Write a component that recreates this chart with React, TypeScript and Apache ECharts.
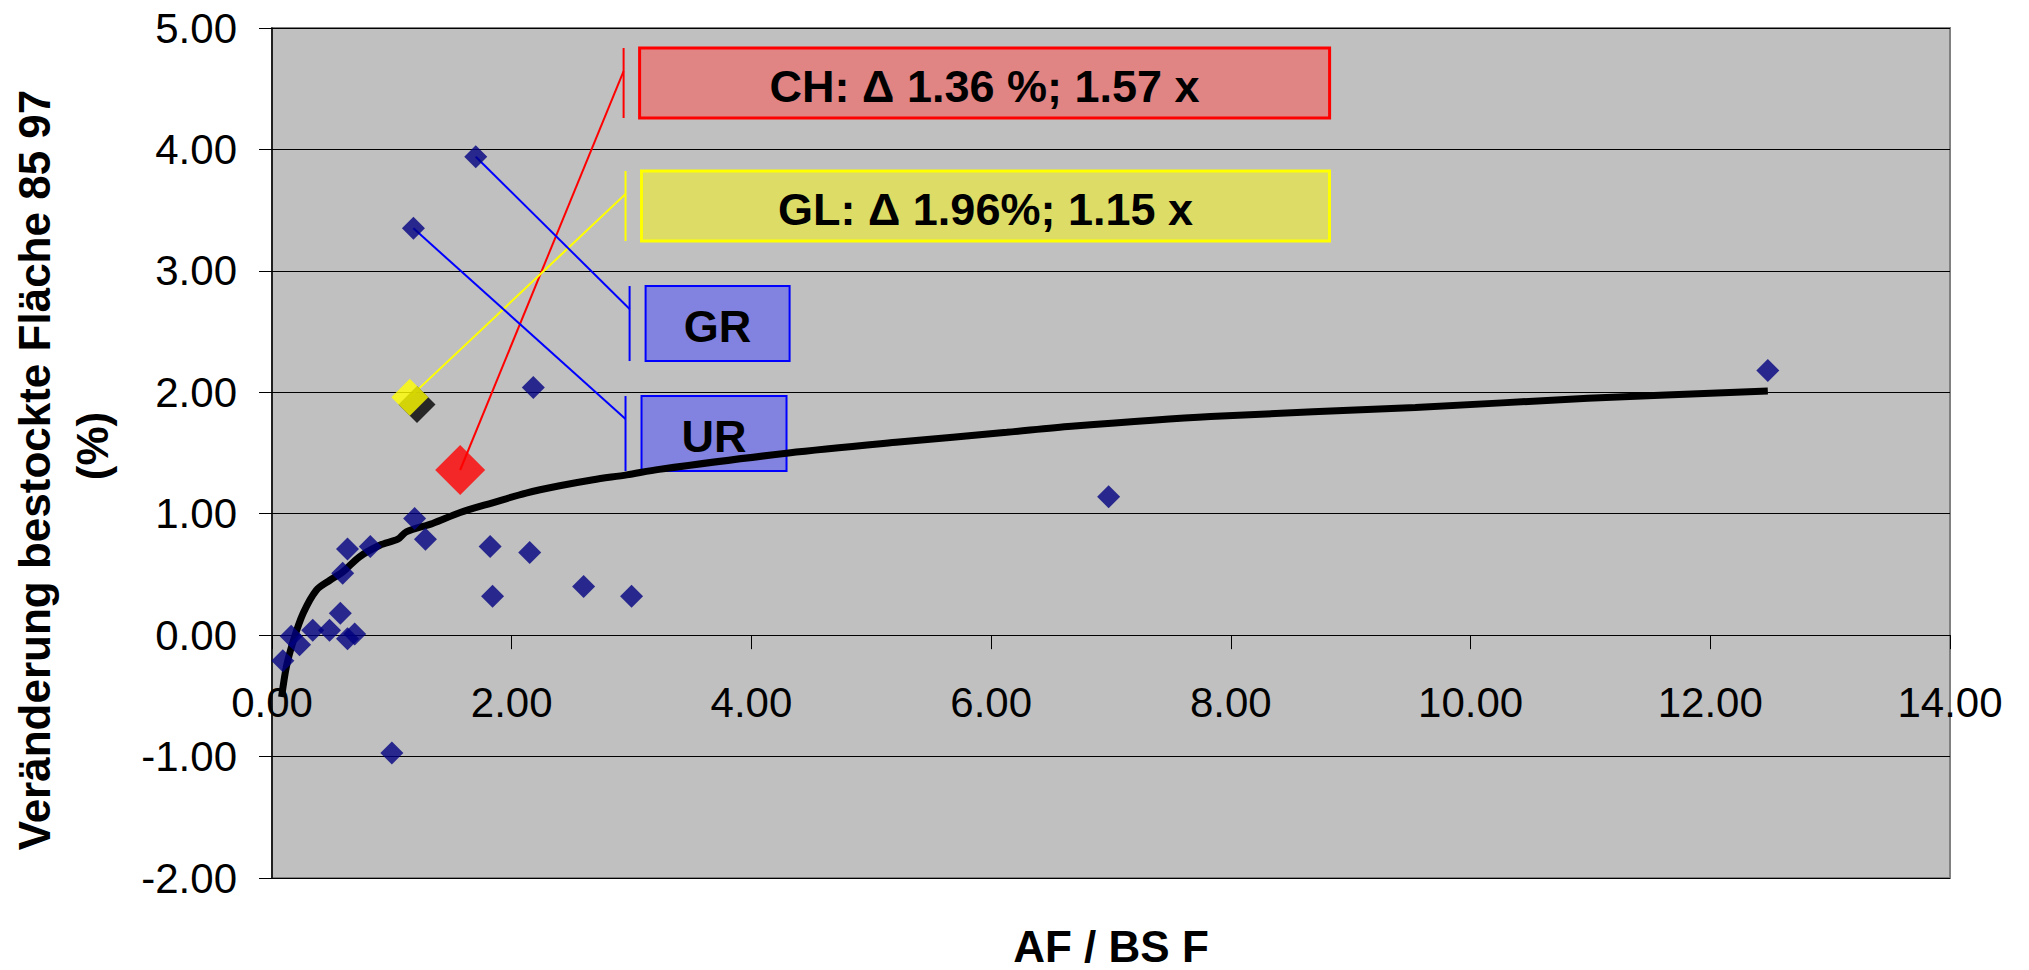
import React, { useEffect, useRef } from 'react';
import * as echarts from 'echarts';

// ---- data ----
const pointX = [0.09, 0.16, 0.23, 0.34, 0.48, 0.57, 0.59, 0.63, 0.63, 0.69, 0.82, 1.19, 1.28, 1.0, 1.82, 1.84, 2.15, 2.18, 2.6, 3.0, 1.7, 1.18, 6.98, 12.48];
const pointY = [-0.21, -0.01, -0.08, 0.04, 0.04, 0.18, 0.51, 0.71, -0.03, 0.01, 0.73, 0.96, 0.79, -0.97, 0.73, 0.32, 0.68, 2.04, 0.4, 0.32, 3.94, 3.35, 1.14, 2.18];

const trendX = [0.08, 0.12, 0.18, 0.26, 0.37, 0.48, 0.59, 0.73, 0.9, 1.05, 1.12, 1.34, 1.57, 1.84, 2.12, 2.4, 2.68, 2.96, 3.23, 4.31, 5.23, 6.13, 6.67, 7.83, 9.54, 10.98, 12.48];
const trendY = [-0.51, -0.26, -0.04, 0.18, 0.37, 0.45, 0.52, 0.645, 0.74, 0.79, 0.85, 0.92, 1.01, 1.09, 1.17, 1.23, 1.28, 1.32, 1.365, 1.5, 1.59, 1.67, 1.72, 1.8, 1.875, 1.95, 2.01];

const chX = [1.57];
const chY = [1.36];
const glX = [1.15];
const glY = [1.96];
const glShadowX = [1.21];
const glShadowY = [1.9];

const calloutNames = ['CH: Δ 1.36 %; 1.57 x', 'GL: Δ 1.96%; 1.15 x', 'GR', 'UR'];
const calloutPointX = [1.57, 1.15, 1.7, 1.18];
const calloutPointY = [1.36, 1.96, 3.94, 3.35];

const xTicks = { min: 0, max: 14, interval: 2 };
const yTicks = { min: -2, max: 5, interval: 1 };

const xTitle = 'AF / BS F';
const yTitle1 = 'Veränderung bestockte Fläche 85 97';
const yTitle2 = '(%)';

// ---- layout / styles (not data) ----
const FONT = '"Liberation Sans", Arial, Helvetica, sans-serif';
const GRID = { left: 272, right: 79, top: 28, bottom: 92 };
const PLOT_H = 970 - GRID.top - GRID.bottom;
// the x axis crosses the y axis at 0, as in the reference
const xAxisOffset = -PLOT_H * (0 - yTicks.min) / (yTicks.max - yTicks.min);

const calloutLayout = [
  { left: 3.067, top: 4.835, w: 690, h: 70, fill: '#E08484', stroke: '#FF0000', lw: 3 },
  { left: 3.083, top: 3.822, w: 688, h: 70, fill: '#DCDC66', stroke: '#FFFF00', lw: 3 },
  { left: 3.117, top: 2.875, w: 144, h: 75, fill: '#8282E0', stroke: '#0000FF', lw: 2 },
  { left: 3.083, top: 1.969, w: 145, h: 75, fill: '#8282E0', stroke: '#0000FF', lw: 2 },
];

export default function App() {
  const ref = useRef<HTMLDivElement>(null);
  useEffect(() => {
    if (!ref.current) return;
    const chart = echarts.init(ref.current, undefined, { renderer: 'svg' });
    const option: any = {
      animation: false,
      backgroundColor: '#ffffff',
      grid: {
        ...GRID,
        show: true, backgroundColor: '#C0C0C0', borderColor: '#808080', borderWidth: 2,
      },
      xAxis: {
        type: 'value', ...xTicks,
        offset: xAxisOffset,
        axisLine: { onZero: false, lineStyle: { color: '#000', width: 1 } },
        axisTick: { show: true, length: 14, lineStyle: { color: '#000', width: 1 } },
        axisLabel: { formatter: (v: number) => v.toFixed(2), fontSize: 42, color: '#000', fontFamily: FONT, margin: 46 },
        splitLine: { show: false },
      },
      yAxis: {
        type: 'value', ...yTicks,
        axisLine: { show: true, onZero: false, lineStyle: { color: '#000', width: 1.5 } },
        axisTick: { show: true, length: 13, lineStyle: { color: '#000', width: 1 } },
        axisLabel: { formatter: (v: number) => v.toFixed(2), fontSize: 42, color: '#000', fontFamily: FONT, margin: 35 },
        splitLine: { show: true, lineStyle: { color: '#000', width: 1 } },
      },
      graphic: [
        { type: 'text', x: 34, y: 470, rotation: Math.PI / 2, z: 10,
          style: { text: yTitle1, font: 'bold 44px ' + FONT, fill: '#000', align: 'center', verticalAlign: 'middle' } },
        { type: 'text', x: 92, y: 446, rotation: Math.PI / 2, z: 10,
          style: { text: yTitle2, font: 'bold 44px ' + FONT, fill: '#000', align: 'center', verticalAlign: 'middle' } },
        { type: 'text', x: 1111, y: 946, z: 10,
          style: { text: xTitle, font: 'bold 44px ' + FONT, fill: '#000', align: 'center', verticalAlign: 'middle' } },
      ],
      series: [
        {
          type: 'custom', z: 1, clip: false,
          data: calloutPointX.map((x, i) => ({
            name: calloutNames[i],
            value: [x, calloutPointY[i], calloutLayout[i].left, calloutLayout[i].top],
          })),
          renderItem: (params: any, api: any) => {
            const i = params.dataIndex;
            const L = calloutLayout[i];
            const p = api.coord([api.value(0), api.value(1)]);
            const b = api.coord([api.value(2), api.value(3)]);
            const vx = b[0] - 16;
            const ay = b[1] + 23;
            return {
              type: 'group',
              children: [
                { type: 'line', shape: { x1: p[0], y1: p[1], x2: vx, y2: ay }, style: { stroke: L.stroke, lineWidth: 2 } },
                { type: 'line', shape: { x1: vx, y1: b[1], x2: vx, y2: b[1] + L.h }, style: { stroke: L.stroke, lineWidth: 2 } },
                { type: 'rect', shape: { x: b[0], y: b[1], width: L.w, height: L.h }, style: { fill: L.fill, stroke: L.stroke, lineWidth: L.lw } },
                { type: 'text', x: b[0] + L.w / 2, y: b[1] + L.h / 2 + 3,
                  style: { text: calloutNames[i], fill: '#000', font: 'bold 45px ' + FONT, align: 'center', verticalAlign: 'middle' } },
              ],
            };
          },
        },
        {
          type: 'line', z: 2, data: trendX.map((x, i) => [x, trendY[i]]),
          showSymbol: false, smooth: 0.3, lineStyle: { color: '#000', width: 7 }, silent: true,
        },
        {
          type: 'scatter', z: 3, symbol: 'diamond', symbolSize: 23,
          itemStyle: { color: '#000080' },
          data: pointX.map((x, i) => [x, pointY[i]]),
        },
        {
          type: 'scatter', z: 4, symbol: 'diamond', symbolSize: 37,
          itemStyle: { color: '#000000' },
          data: glShadowX.map((x, i) => [x, glShadowY[i]]),
        },
        {
          type: 'scatter', z: 5, symbol: 'diamond', symbolSize: 37,
          itemStyle: { color: '#FFFF00' },
          data: glX.map((x, i) => [x, glY[i]]),
        },
        {
          type: 'scatter', z: 5, symbol: 'diamond', symbolSize: 50,
          itemStyle: { color: '#FF0000' },
          data: chX.map((x, i) => [x, chY[i]]),
        },
      ],
    };
    chart.setOption(option);
    return () => chart.dispose();
  }, []);
  return <div ref={ref} style={{ position: 'fixed', left: 0, top: 0, width: 2029, height: 970, background: '#fff' }} />;
}
